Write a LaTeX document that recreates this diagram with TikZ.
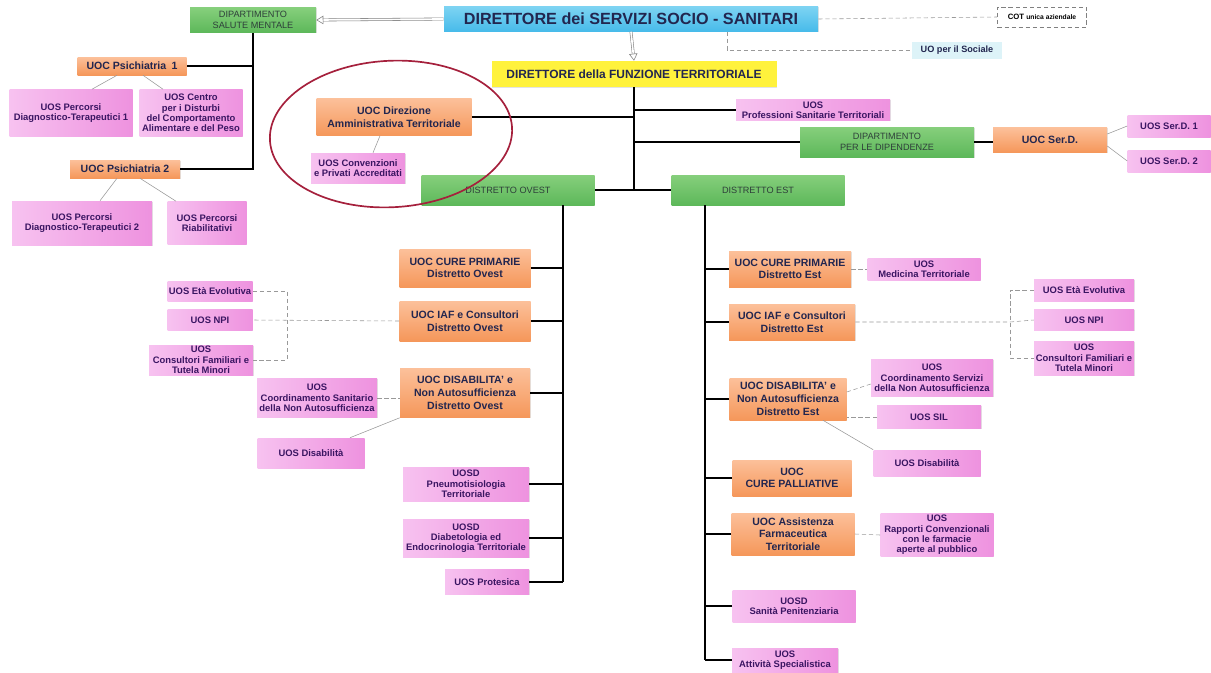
\documentclass[tikz,border=0pt]{standalone}
\usepackage{fontspec}
\setmainfont{Liberation Sans}
\usetikzlibrary{arrows.meta,shadows}
\definecolor{orL}{HTML}{FCC09A}
\definecolor{orD}{HTML}{F5975A}
\definecolor{piL}{HTML}{F7C2F0}
\definecolor{piD}{HTML}{EE92DF}
\definecolor{grL}{HTML}{86CF7C}
\definecolor{grD}{HTML}{5DB85A}
\definecolor{blL}{HTML}{7DD3F2}
\definecolor{blD}{HTML}{47BBEA}
\definecolor{yel}{HTML}{FFF23C}
\definecolor{soc}{HTML}{DDF3F8}
\definecolor{navy}{HTML}{22264F}
\definecolor{plum}{HTML}{3A1562}
\definecolor{moss}{HTML}{2E3F3A}
\definecolor{ell}{HTML}{A5203C}

\begin{document}
\begin{tikzpicture}[x=0.025cm,y=-0.025cm,
    box/.style={inner sep=0pt,align=center,drop shadow={shadow xshift=0.7pt,shadow yshift=-0.7pt,opacity=0.22}},
    pinkbox/.style={box,left color=piL,right color=piD,text=plum,font=\bfseries\fontsize{6.7}{7.3}\selectfont},
    orbox/.style={box,top color=orL,bottom color=orD,text=navy,font=\bfseries\fontsize{7.5}{9}\selectfont},
    grbox/.style={box,top color=grL,bottom color=grD,text=moss,font=\fontsize{6.5}{7.5}\selectfont},
    trunk/.style={line width=1.3pt,black},
    thin/.style={line width=0.9pt,black},
    link/.style={line width=0.4pt,gray!80},
    dlink/.style={link,densely dashed},
    hollow/.style={double=white,double distance=1.2pt,line width=0.4pt,gray,-{Triangle[open,length=5pt,width=6pt]}}]
    \def\px{0.025cm}
    \useasboundingbox (0,0) rectangle (1211,672);
    \node[box,top color=blL,bottom color=blD,text=navy,font=\bfseries\fontsize{11.5}{13}\selectfont,
        minimum width=374*\px,minimum height=25*\px] (dss) at (631,19) {DIRETTORE dei SERVIZI SOCIO - SANITARI};
    \node[box,fill=yel,text=navy,font=\bfseries\fontsize{8.5}{10}\selectfont,
        minimum width=285*\px,minimum height=26*\px] (dft) at (634,74) {DIRETTORE della FUNZIONE TERRITORIALE};
    \node[draw=gray,densely dashed,inner sep=0pt,minimum width=89*\px,minimum height=20*\px,text=black,
        font=\bfseries\fontsize{5.5}{6}\selectfont] (cot) at (1042,17) {COT {\fontsize{4.8}{6}\selectfont unica aziendale}};
    \node[inner sep=0pt,fill=soc,text=navy,font=\bfseries\fontsize{6.5}{7}\selectfont,
        minimum width=90*\px,minimum height=17*\px] (sociale) at (957,50) {UO per il Sociale};
    \foreach \nm/\cx/\cy/\w/\h/\txt in {
            dsm/253/20/126/25/{DIPARTIMENTO\\SALUTE MENTALE},
            dipend/887/142/174/30/{DIPARTIMENTO\\PER LE DIPENDENZE},
            dOvest/508/190/173/30/{DISTRETTO OVEST},
            dEst/758/190/173/30/{DISTRETTO EST}}{
            \node[grbox,minimum width=\w*\px,minimum height=\h*\px] (\nm) at (\cx,\cy) {\txt};
        }
    \foreach \nm/\cx/\cy/\w/\h/\txt in {
            psi1/132/66/109/18/{UOC Psichiatria\enspace1},
            psi2/125/169/110/18/{UOC Psichiatria 2},
            dat/394/117/155/37/{UOC Direzione\\Amministrativa Territoriale},
            serd/1050/140/114/25/{UOC Ser.D.},
            cpO/465/268/131/38/{UOC CURE PRIMARIE\\Distretto Ovest},
            iafO/465/321/131/40/{UOC IAF e Consultori\\Distretto Ovest},
            disabO/465/393/130/49/{UOC DISABILITA' e\\Non Autosufficienza\\Distretto Ovest},
            cpE/790/269/122/36/{UOC CURE PRIMARIE\\Distretto Est},
            iafE/792/322/126/36/{UOC IAF e Consultori\\Distretto Est},
            disabE/788/399/117/42/{UOC DISABILITA' e\\Non Autosufficienza\\Distretto Est},
            pall/792/478/119/36/{UOC\\CURE PALLIATIVE},
            farm/793/534/123/42/{UOC Assistenza\\Farmaceutica\\Territoriale}}{
            \node[orbox,minimum width=\w*\px,minimum height=\h*\px] (\nm) at (\cx,\cy) {\txt};
        }
    \foreach \nm/\cx/\cy/\w/\h/\txt in {
            ptd1/71/113/123/47/{UOS Percorsi\\Diagnostico-Terapeutici 1},
            dca/191/113/103/47/{UOS Centro\\per i Disturbi\\del Comportamento\\Alimentare e del Peso},
            ptd2/82/223/140/44/{UOS Percorsi\\Diagnostico-Terapeutici 2},
            riab/207/223/79/43/{UOS Percorsi\\Riabilitativi},
            conv/358/168/94/30/{UOS Convenzioni\\e Privati Accreditati},
            prof/813/110/154/21/{UOS\\Professioni Sanitarie Territoriali},
            serd1/1169/126/83/22/{UOS Ser.D. 1},
            serd2/1169/161/83/22/{UOS Ser.D. 2},
            etaO/210/291/85/20/{UOS Età Evolutiva},
            npiO/210/320/85/21/{UOS NPI},
            cfO/201/360/104/30/{UOS\\Consultori Familiari e\\Tutela Minori},
            coordO/317/398/120/39/{UOS\\Coordinamento Sanitario\\della Non Autosufficienza},
            disO/311/453/107/30/{UOS Disabilità},
            pneumo/466/484/126/34/{UOSD\\Pneumotisiologia\\Territoriale},
            diab/466/538/126/38/{UOSD\\Diabetologia ed\\Endocrinologia Territoriale},
            prot/487/582/84/25/{UOS Protesica},
            medt/924/269/113/22/{UOS\\Medicina Territoriale},
            etaE/1084/290/100/22/{UOS Età Evolutiva},
            npiE/1084/320/100/21/{UOS NPI},
            cfE/1084/358/100/34/{UOS\\Consultori Familiari e\\Tutela Minori},
            coordE/932/378/122/37/{UOS\\Coordinamento Servizi\\della Non Autosufficienza},
            sil/929/417/104/23/{UOS SIL},
            disE/927/463/107/26/{UOS Disabilità},
            rapp/937/535/113/43/{UOS\\Rapporti Convenzionali\\con le farmacie\\aperte al pubblico},
            penit/794/606/123/32/{UOSD\\Sanità Penitenziaria},
            spec/785/660/106/24/{UOS\\Attività Specialistica}}{
            \node[pinkbox,minimum width=\w*\px,minimum height=\h*\px] (\nm) at (\cx,\cy) {\txt};
        }
    \coordinate (oT) at (563,205);
    \coordinate (eT) at (705,205);
    \coordinate (obus) at (287,320);
    \coordinate (ebus) at (1010,322);
    \draw[hollow] (dss.west) -- (dsm.east);
    \draw[hollow] (dss.south) -- (dft.north);
    \draw[dlink] (dss.east) -- (cot.west);
    \draw[dlink] ([xshift=96*\px]dss.south) |- (sociale.west);
    \draw[trunk] (dsm.south) |- (psi2.east);
    \draw[trunk] (psi1.east) -- (psi1.east -| dsm.south);
    \draw[link] ([xshift=-15*\px]psi1.south) -- ([xshift=21*\px]ptd1.north);
    \draw[link] ([xshift=11*\px]psi1.south) -- ([xshift=-28*\px]dca.north);
    \draw[link] ([xshift=-8*\px]psi2.south) -- ([xshift=18*\px]ptd2.north);
    \draw[link] ([xshift=15*\px]psi2.south) -- ([xshift=-31*\px]riab.north);
    \draw[link] ([xshift=-14*\px]dat.south) -- ([xshift=15*\px]conv.north);
    \draw[trunk] (dft.south) -- (dft.south |- dOvest.east);
    \draw[trunk] (dOvest.east) -- (dEst.west);
    \draw[trunk] (dat.east) -- (dat.east -| dft.south);
    \draw[thin] (prof.west) -- (prof.west -| dft.south);
    \draw[thin] (dipend.west) -- (dipend.west -| dft.south);
    \draw[trunk] (dipend.east) -- (dipend.east -| serd.west);
    \draw[link] ([yshift=6*\px]serd.east) -- (serd1.west);
    \draw[link] ([yshift=-6*\px]serd.east) -- (serd2.west);
    \draw[trunk] (oT) -- (oT |- prot.east);
    \foreach \k in {cpO,iafO,disabO,pneumo,diab,prot}{
            \draw[trunk] (\k.east) -- (\k.east -| oT);
        }
    \draw[trunk] (eT) -- (eT |- spec.west);
    \foreach \k in {cpE,iafE,disabE,pall,farm,penit,spec}{
            \draw[trunk] (\k.west) -- (\k.west -| eT);
        }
    \draw[dlink] (iafO.west) -- (npiO.east);
    \draw[dlink] (etaO.east) -| (obus) |- (cfO.east);
    \draw[dlink] (coordO.east) -- (coordO.east -| disabO.west);
    \draw[link] ([xshift=39*\px]disO.north) -- (disabO.south west);
    \draw[dlink] (cpE.east) -- (medt.west);
    \draw[dlink] (iafE.east) -- (ebus) -- (npiE.west);
    \draw[dlink] (etaE.west) -| (ebus) |- (cfE.west);
    \draw[dlink] ([yshift=7*\px]disabE.east) -- ([yshift=-6*\px]coordE.west);
    \draw[dlink] (sil.west) -- (sil.west -| disabE.east);
    \draw[link] ([xshift=35*\px]disabE.south) -- (disE.north west);
    \draw[dlink] (farm.east) -- (rapp.west);
    \draw[ell,line width=1.2pt,rotate around={3:(391,134)}] (391,134) ellipse [x radius=3.03cm,y radius=1.83cm];
\end{tikzpicture}
\end{document}
